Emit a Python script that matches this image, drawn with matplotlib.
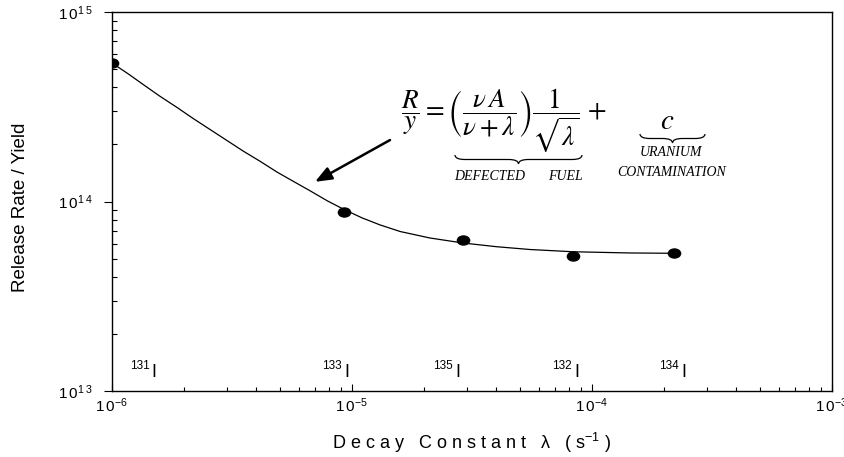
import numpy as np
import matplotlib
matplotlib.use("Agg")
import matplotlib.pyplot as plt
from matplotlib.path import Path
from matplotlib.patches import PathPatch
from matplotlib.transforms import Affine2D, Bbox, TransformedBbox
from matplotlib.ticker import FixedLocator, FixedFormatter, LogLocator, NullFormatter

plt.rcParams['font.family'] = ['Liberation Sans', 'DejaVu Sans']

# measured points (decay constant in 1/s, release rate / yield)
lam_pts = [1.0e-6, 9.29e-6, 2.91e-5, 8.36e-5, 2.20e-4]
ry_pts = [5.38e14, 8.77e13, 6.26e13, 5.16e13, 5.35e13]

# fitted curve
lam_fit = [1.00e-6, 1.17e-6, 1.35e-6, 1.58e-6, 1.87e-6, 2.18e-6, 2.56e-6,
           3.01e-6, 3.51e-6, 4.14e-6, 4.87e-6, 5.68e-6, 6.68e-6, 7.87e-6,
           9.26e-6, 1.10e-5, 1.31e-5, 1.59e-5, 2.11e-5, 2.90e-5, 4.02e-5,
           5.52e-5, 8.33e-5, 1.44e-4, 2.20e-4]
ry_fit = [5.38e14, 4.71e14, 4.14e14, 3.60e14, 3.13e14, 2.74e14, 2.40e14,
          2.10e14, 1.85e14, 1.63e14, 1.43e14, 1.28e14, 1.14e14, 1.01e14,
          9.08e13, 8.20e13, 7.52e13, 6.94e13, 6.42e13, 6.04e13, 5.77e13,
          5.58e13, 5.43e13, 5.35e13, 5.33e13]

# isotope labels
iso_names = ['131', '133', '135', '132', '134']
iso_x = [1.50e-6, 9.53e-6, 2.76e-5, 8.66e-5, 2.42e-4]

xticks = [1e-6, 1e-5, 1e-4, 1e-3]
xtick_labels = [r'$\mathregular{1\,0^{-6}}$', r'$\mathregular{1\,0^{-5}}$',
                r'$\mathregular{1\,0^{-4}}$', r'$\mathregular{1\,0^{-3}}$']
yticks = [1e13, 1e14, 1e15]
ytick_labels = [r'$\mathregular{1\,0^{1\,3}}$', r'$\mathregular{1\,0^{1\,4}}$',
                r'$\mathregular{1\,0^{1\,5}}$']

W, H = 845, 457
fig = plt.figure(figsize=(W / 100, H / 100), dpi=100)
ax = fig.add_axes([112 / W, 1 - 391 / H, 720 / W, 379 / H])

ax.set_xscale('log')
ax.set_yscale('log')
ax.set_xlim(1e-6, 1e-3)
ax.set_ylim(1e13, 1e15)

ax.plot(lam_fit, ry_fit, color='black', lw=0.9, zorder=2)
dot = Path.unit_circle().transformed(Affine2D().scale(1.35, 1.0))
ax.plot(lam_pts, ry_pts, linestyle='none', marker=dot, markersize=8.8,
        color='black', zorder=3)

# ticks
ax.xaxis.set_major_locator(FixedLocator(xticks))
ax.xaxis.set_major_formatter(FixedFormatter(xtick_labels))
ax.xaxis.set_minor_locator(LogLocator(base=10, subs=np.arange(2, 10)))
ax.xaxis.set_minor_formatter(NullFormatter())
ax.yaxis.set_major_locator(FixedLocator(yticks))
ax.yaxis.set_major_formatter(FixedFormatter(ytick_labels))
ax.yaxis.set_minor_locator(LogLocator(base=10, subs=np.arange(2, 10)))
ax.yaxis.set_minor_formatter(NullFormatter())

ax.tick_params(axis='x', which='major', direction='in', length=5, width=0.8,
               pad=4, labelsize=11)
ax.tick_params(axis='x', which='minor', direction='in', length=3, width=0.8)
ax.tick_params(axis='y', which='major', direction='out', length=5.8, width=0.8,
               pad=8, labelsize=11)
ax.tick_params(axis='y', which='minor', direction='in', length=3.6, width=0.8)
for s in ax.spines.values():
    s.set_linewidth(1.0)

ax.set_xlabel('D e c a y   C o n s t a n t   λ   ( s' + r'$\mathregular{^{-1}}$' + ' )',
              fontsize=13)
ax.xaxis.set_label_coords(0.5, -(443 - 391) / 379)
ax.xaxis.label.set_va('center')
ax.set_ylabel('Release Rate / Yield', fontsize=13.5)
ax.yaxis.set_label_coords(-(112 - 21) / 720, (391 - 207) / 379)
ax.yaxis.label.set_va('center')

# isotope markers along the bottom
blend = ax.get_xaxis_transform()
for name, xv in zip(iso_names, iso_x):
    ax.text(xv, 0.037, 'I', transform=blend, ha='center', va='baseline',
            fontsize=13)
    ax.annotate(name, xy=(xv, 0.037), xycoords=blend, xytext=(-3.5, 6),
                textcoords='offset points', ha='right', va='baseline',
                fontsize=8.5)

# arrow pointing to the curve
ax.annotate('', xy=(7.01e-6, 1.27e14), xytext=(1.44e-5, 2.11e14),
            arrowprops=dict(arrowstyle='-|>,head_length=1.0,head_width=0.4',
                            color='black', lw=1.8, shrinkA=0, shrinkB=0))


def fx(px):
    return px / W


def fy(py):
    return 1 - py / H


def brace(x0, x1, y0, h):
    xm = (x0 + x1) / 2
    r = min(10, (x1 - x0) / 4)
    ym = y0 + h / 2
    pts = [(x0, y0), (x0, ym), (x0 + r, ym), (xm - r, ym), (xm, ym), (xm, y0 + h),
           (xm, ym), (xm + r, ym), (x1 - r, ym), (x1, ym), (x1, y0)]
    codes = [Path.MOVETO, Path.CURVE3, Path.CURVE3, Path.LINETO, Path.CURVE3,
             Path.CURVE3, Path.CURVE3, Path.CURVE3, Path.LINETO, Path.CURVE3,
             Path.CURVE3]
    p = Path([(fx(a), fy(b)) for a, b in pts], codes)
    fig.add_artist(PathPatch(p, fill=False, lw=0.9, color='black',
                             transform=fig.transFigure))


eq = (r'$\dfrac{R}{y}=\left(\dfrac{\nu\,A}{\nu+\lambda}\right)'
      r'\dfrac{1}{\sqrt{\lambda}}\,+$')
fig.text(fx(401), fy(121), eq, ha='left', va='center', fontsize=19.5,
         math_fontfamily='stix')
fig.text(fx(667), fy(121), r'$c$', ha='center', va='center', fontsize=21,
         math_fontfamily='stix')

brace(455, 582, 155, 9)
brace(640, 705, 134, 9)

clip = TransformedBbox(Bbox([[0, fy(180)], [1, 1]]), fig.transFigure)
for txt, xc in [('DEFECTED', 490), ('FUEL', 565)]:
    t = fig.text(fx(xc), fy(177), txt, ha='center', va='center', fontsize=10,
                 family='Liberation Serif', style='italic')
    t.set_clip_box(clip)
    t.set_clip_on(True)
fig.text(fx(671), fy(153), 'URANIUM', ha='center', va='center', fontsize=10,
         family='Liberation Serif', style='italic')
fig.text(fx(672), fy(172), 'CONTAMINATION', ha='center', va='center',
         fontsize=10, family='Liberation Serif', style='italic')

fig.savefig('out.png', dpi=100)
